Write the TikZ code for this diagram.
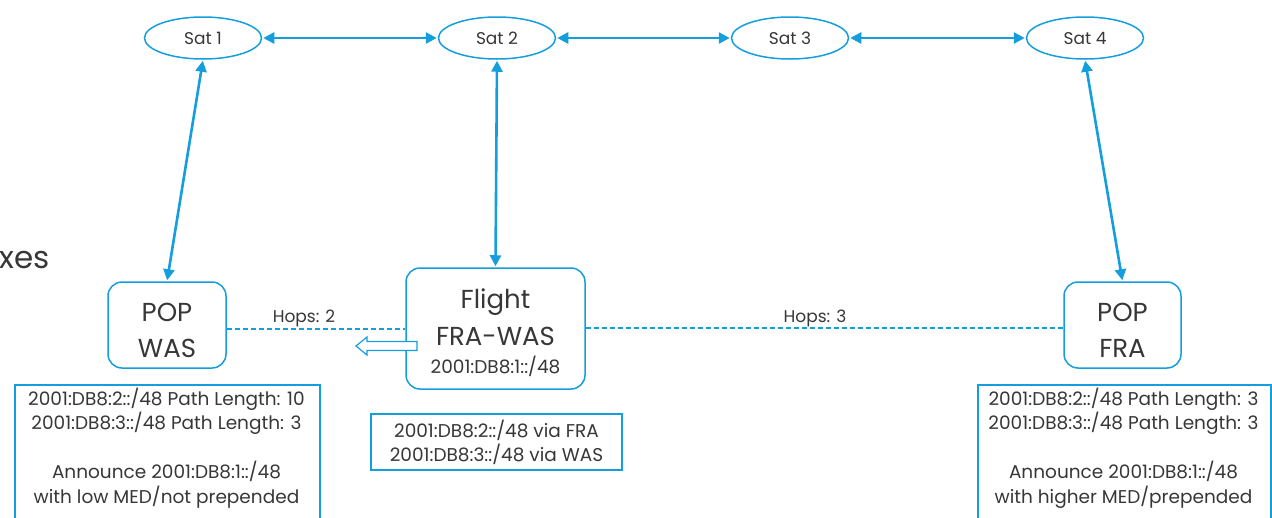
\documentclass[tikz,border=0pt]{standalone}
\usepackage{fontspec}
\setmainfont{Poppins}
\usetikzlibrary{arrows.meta,shapes.geometric}
\definecolor{lblue}{RGB}{20,158,222}
\definecolor{tgray}{RGB}{55,55,55}
\tikzset{
  sat/.style={draw=lblue, line width=1.5pt, ellipse, minimum width=117pt, minimum height=42pt, inner sep=0pt, text=tgray, font=\fontsize{17}{20}\selectfont},
  popbox/.style={draw=lblue, line width=1.5pt, rounded corners=14pt, inner sep=0pt},
  infobox/.style={draw=lblue, line width=1.5pt, inner sep=0pt},
  txt/.style={anchor=base, inner sep=0pt, text=tgray},
  big/.style={txt, font=\fontsize{26}{30}\selectfont},
  small/.style={txt, font=\fontsize{18.5}{22}\selectfont},
  link/.style={draw=lblue, line width=2.6pt, {Triangle[length=11pt,width=11pt]}-{Triangle[length=11pt,width=11pt]}, shorten <=1pt, shorten >=1pt},
  hop/.style={draw=lblue, line width=1.2pt, dash pattern=on 5pt off 3pt}
}
\begin{document}
\begin{tikzpicture}[x=1pt,y=-1pt]
\useasboundingbox (0,0) rectangle (1272,517);
\clip (0,0) rectangle (1272,517);
\node[anchor=base west, text=tgray, font=\fontsize{31}{34}\selectfont, inner sep=0pt] (xes) at (-1,268) {xes};

\node[sat] (s1) at (203,38) {Sat 1};
\node[sat] (s2) at (497,38) {Sat 2};
\node[sat] (s3) at (790,38) {Sat 3};
\node[sat] (s4) at (1085,38) {Sat 4};

\node[popbox, minimum width=118pt, minimum height=86pt] (was) at (167,325) {};
\node[big] (wasa) at (167,321) {POP};
\node[big] (wasb) at (167,357) {WAS};

\node[popbox, minimum width=179pt, minimum height=121pt] (fl) at (495.5,328.5) {};
\node[big] (fla) at (495.5,308) {Flight};
\node[big] (flb) at (495.5,345) {FRA-WAS};
\node[small] (flc) at (495.5,373) {2001:DB8:1::/48};

\node[popbox, minimum width=117pt, minimum height=86pt] (fra) at (1122.5,325) {};
\node[big] (fraa) at (1122.5,321) {POP};
\node[big] (frab) at (1122.5,357) {FRA};

\draw[link] (s1) -- (s2);
\draw[link] (s2) -- (s3);
\draw[link] (s3) -- (s4);
\draw[link] (s1.south) -- (was.north);
\draw[link] (s2.south) -- (fl.north);
\draw[link] (s4.south) -- (fra.north);

\draw[hop] (was.east |- 0,329) coordinate (h1a) -- (fl.west |- 0,329) coordinate (h1b);
\node[small, font=\fontsize{17}{20}\selectfont] (h2) at (304,322) {Hops: 2};
\draw[hop] (fl.east |- 0,328) coordinate (h2a) -- (fra.west |- 0,328) coordinate (h2b);
\node[small, font=\fontsize{17}{20}\selectfont] (h3) at (815,322) {Hops: 3};

\draw[draw=lblue, line width=1.2pt, fill=white] (417,341.5) -- (367,341.5) -- (367,337) -- (356,346) -- (367,355) -- (367,350.5) -- (417,350.5) -- cycle;

\node[infobox, minimum width=305pt, minimum height=150pt, anchor=north west] (lb) at (14,384) {};
\node[small] (lb1) at (166.5,405) {2001:DB8:2::/48 Path Length: 10};
\node[small] (lb2) at (166.5,429) {2001:DB8:3::/48 Path Length: 3};
\node[small] (lb3) at (166.5,478.5) {Announce 2001:DB8:1::/48};
\node[small] (lb4) at (166.5,503) {with low MED/not prepended};

\node[infobox, minimum width=251pt, minimum height=56pt] (cb) at (496.5,442) {};
\node[small] (cb1) at (496.5,437) {2001:DB8:2::/48 via FRA};
\node[small] (cb2) at (496.5,461) {2001:DB8:3::/48 via WAS};

\node[infobox, minimum width=293pt, minimum height=150pt, anchor=north west] (rb) at (977,384) {};
\node[small] (rb1) at (1123.5,405) {2001:DB8:2::/48 Path Length: 3};
\node[small] (rb2) at (1123.5,429) {2001:DB8:3::/48 Path Length: 3};
\node[small] (rb3) at (1123.5,478.5) {Announce 2001:DB8:1::/48};
\node[small] (rb4) at (1123.5,503) {with higher MED/prepended};
\end{tikzpicture}
\end{document}
